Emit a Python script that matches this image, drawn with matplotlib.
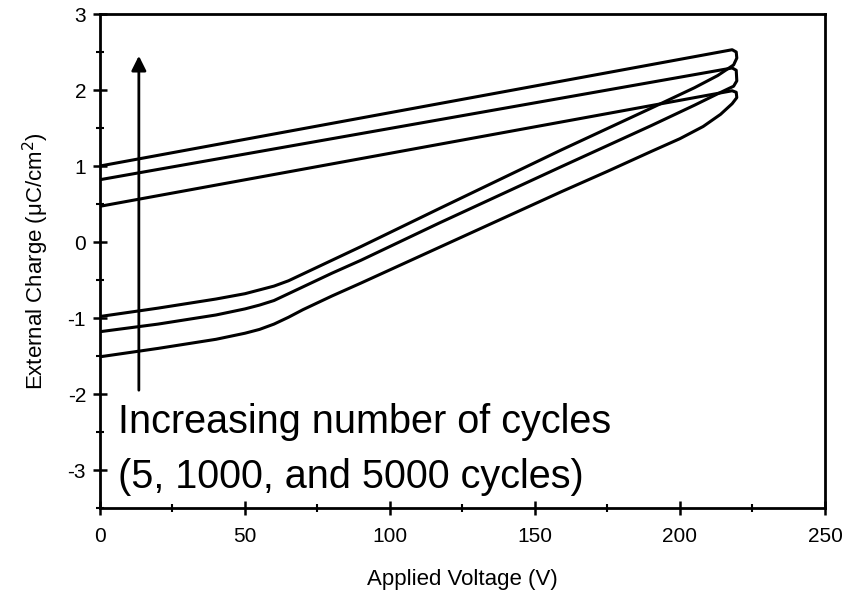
import numpy as np
import matplotlib
matplotlib.use("Agg")
import matplotlib.pyplot as plt
from matplotlib.ticker import MultipleLocator

plt.rcParams['font.family'] = ['Liberation Sans', 'DejaVu Sans']
plt.rcParams['axes.unicode_minus'] = False

# hysteresis loops after 5, 1000 and 5000 cycles (bottom to top)
# rising branch (voltage increasing)
up_v_5 = [0, 20, 40, 50, 55, 60, 65, 70, 75, 80, 90, 117, 159, 175, 190, 200, 208, 214, 218]
up_q_5 = [-1.51, -1.40, -1.28, -1.20, -1.15, -1.08, -0.99, -0.89, -0.80, -0.71, -0.54, -0.07,
          0.66, 0.93, 1.19, 1.36, 1.52, 1.68, 1.82]
up_v_1000 = [0, 20, 40, 50, 55, 60, 65, 70, 75, 80, 90, 117, 159, 190, 205, 213, 218.5]
up_q_1000 = [-1.18, -1.08, -0.96, -0.88, -0.83, -0.77, -0.68, -0.59, -0.50, -0.41, -0.24, 0.25,
             0.99, 1.53, 1.80, 1.95, 2.05]
up_v_5000 = [0, 20, 40, 50, 55, 60, 65, 70, 75, 80, 90, 117, 159, 190, 205, 213, 218.5]
up_q_5000 = [-0.98, -0.87, -0.75, -0.68, -0.63, -0.58, -0.51, -0.42, -0.33, -0.24, -0.06, 0.44,
             1.21, 1.76, 2.03, 2.19, 2.33]

# tip and falling branch (voltage decreasing)
down_v_5 = [219.6, 219.4, 218, 0]
down_q_5 = [1.90, 1.97, 1.99, 0.47]
down_v_1000 = [219.6, 219.4, 218, 0]
down_q_1000 = [2.12, 2.26, 2.29, 0.82]
down_v_5000 = [219.6, 219.4, 218, 0]
down_q_5000 = [2.42, 2.50, 2.53, 1.00]

loops = [
    (up_v_5, up_q_5, down_v_5, down_q_5),
    (up_v_1000, up_q_1000, down_v_1000, down_q_1000),
    (up_v_5000, up_q_5000, down_v_5000, down_q_5000),
]

fig = plt.figure(figsize=(8.51, 5.91), dpi=100)
ax = fig.add_axes([0.1175, 0.1404, 0.8519, 0.8359])

for uv, uq, dv, dq in loops:
    v = list(uv) + list(dv)
    q = list(uq) + list(dq)
    ax.plot(v, q, color='black', lw=2.2, solid_joinstyle='round')

ax.annotate('', xy=(13.4, 2.45), xytext=(13.4, -1.95),
            arrowprops=dict(arrowstyle='-|>', color='black', lw=2,
                            mutation_scale=22, shrinkA=0, shrinkB=0))

ax.text(6.2, -2.51, 'Increasing number of cycles', fontsize=28.5, va='baseline')
ax.text(6.2, -3.24, '(5, 1000, and 5000 cycles)', fontsize=28.5, va='baseline')

ax.set_xlim(0, 250)
ax.set_ylim(-3.5, 3)
ax.xaxis.set_major_locator(MultipleLocator(50))
ax.xaxis.set_minor_locator(MultipleLocator(25))
ax.yaxis.set_major_locator(MultipleLocator(1))
ax.yaxis.set_minor_locator(MultipleLocator(0.5))
ax.tick_params(which='major', direction='inout', length=10, width=1.8, labelsize=15)
ax.tick_params(axis='x', which='major', pad=9)
ax.tick_params(axis='y', which='major', pad=5)
ax.tick_params(which='minor', direction='inout', length=6, width=1.5)
for s in ax.spines.values():
    s.set_linewidth(2)

ax.set_xlabel('Applied Voltage (V)', fontsize=16, labelpad=16)
ax.set_ylabel('External Charge (\u03bcC/cm$^2$)', fontsize=16, labelpad=12)

fig.savefig('out.png', dpi=100)
